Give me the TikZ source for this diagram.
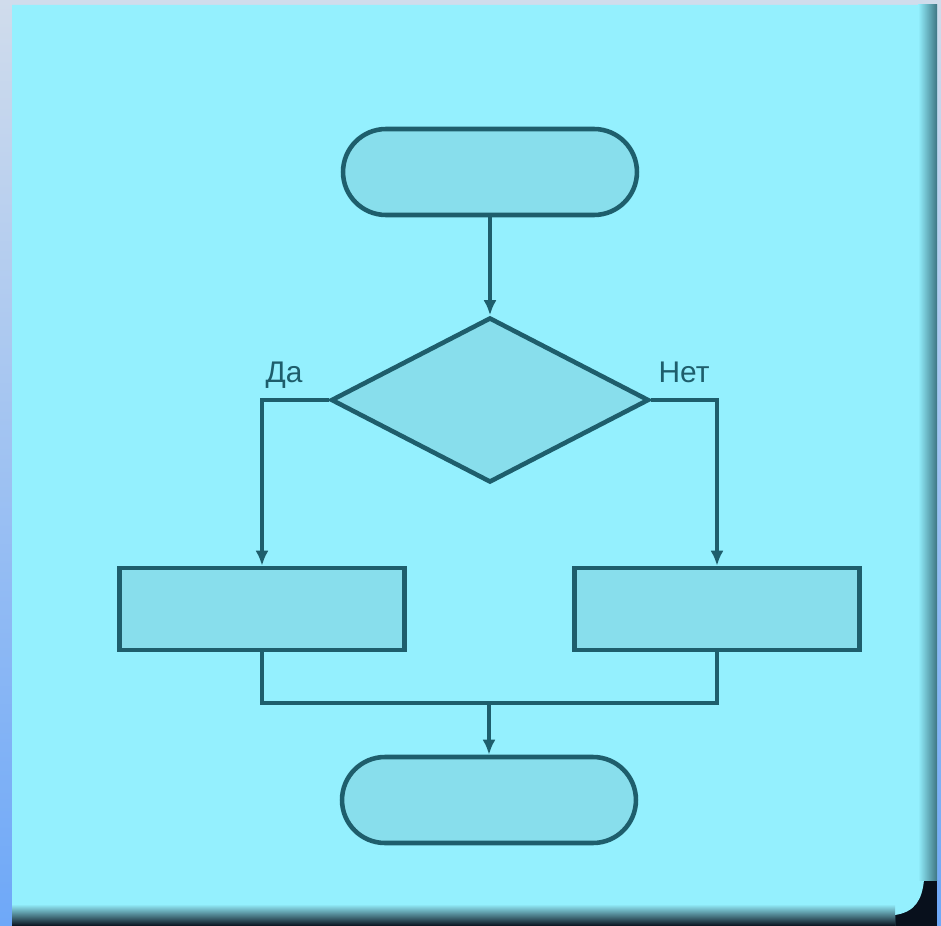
\documentclass[tikz,border=0pt]{standalone}
\usepackage{fontspec}
\setmainfont{Liberation Sans}
\usetikzlibrary{shapes.geometric,arrows.meta}
\definecolor{outertop}{RGB}{208,220,236}
\definecolor{outerbot}{RGB}{110,168,248}
\definecolor{panel}{RGB}{148,240,254}
\definecolor{shapefill}{RGB}{136,222,236}
\definecolor{ink}{RGB}{30,94,108}
\definecolor{shadowR}{RGB}{62,118,132}
\definecolor{shadowB}{RGB}{8,16,28}
\definecolor{shadowM}{RGB}{70,120,130}
\tikzset{
  term/.style={draw=ink, fill=shapefill, line width=2.6pt, rectangle, rounded corners=0.86cm,
    minimum width=5.88cm, minimum height=1.72cm, inner sep=0pt},
  proc/.style={draw=ink, fill=shapefill, line width=2.6pt, rectangle,
    minimum width=5.7cm, minimum height=1.64cm, inner sep=0pt},
  decis/.style={draw=ink, fill=shapefill, line width=2.6pt, diamond, inner sep=0pt,
    minimum width=6.36cm, minimum height=3.3cm},
  conn/.style={draw=ink, line width=2.6pt},
  arr/.style={conn, -{Latex[length=0.3cm,width=0.26cm]}},
  lbl/.style={text=ink, font=\fontsize{17}{20}\selectfont, inner sep=0pt, anchor=base}
}
\begin{document}
\begin{tikzpicture}[x=0.02cm,y=-0.02cm]
\useasboundingbox (0,0) rectangle (941,926);
% background
\shade[top color=outertop, bottom color=outerbot] (0,0) rectangle (941,926);
\fill[shadowB] (880,880) rectangle (937,926);
\fill[panel] (12,5) -- (937,5) -- (937,880) -- (924,880) .. controls (922,900) and (915,912) .. (895,915) -- (895,926) -- (12,926) -- cycle;
\shade[left color=panel, right color=shadowR] (918,5) rectangle (937,880);
\shade[top color=panel, middle color=shadowM, bottom color=shadowB] (12,904) rectangle (895,926);
% nodes
\node[term] (start) at (490,172) {};
\node[decis] (dec) at (490,400) {};
\node[proc] (yes) at (262,609) {};
\node[proc] (no) at (717,609) {};
\node[term] (end) at (489,800) {};
\coordinate (merge) at (489,703);
\node[lbl] (da) at (284,382) {Да};
\node[lbl] (net) at (684,382) {Нет};
% connectors
\draw[arr] (start.south) -- (dec.north);
\draw[arr] (dec.west) -| (yes.north);
\draw[arr] (dec.east) -| (no.north);
\draw[conn] (yes.south) -- (yes.south |- merge) -- (no.south |- merge) -- (no.south);
\draw[arr] (merge) -- (end.north);
\end{tikzpicture}
\end{document}
